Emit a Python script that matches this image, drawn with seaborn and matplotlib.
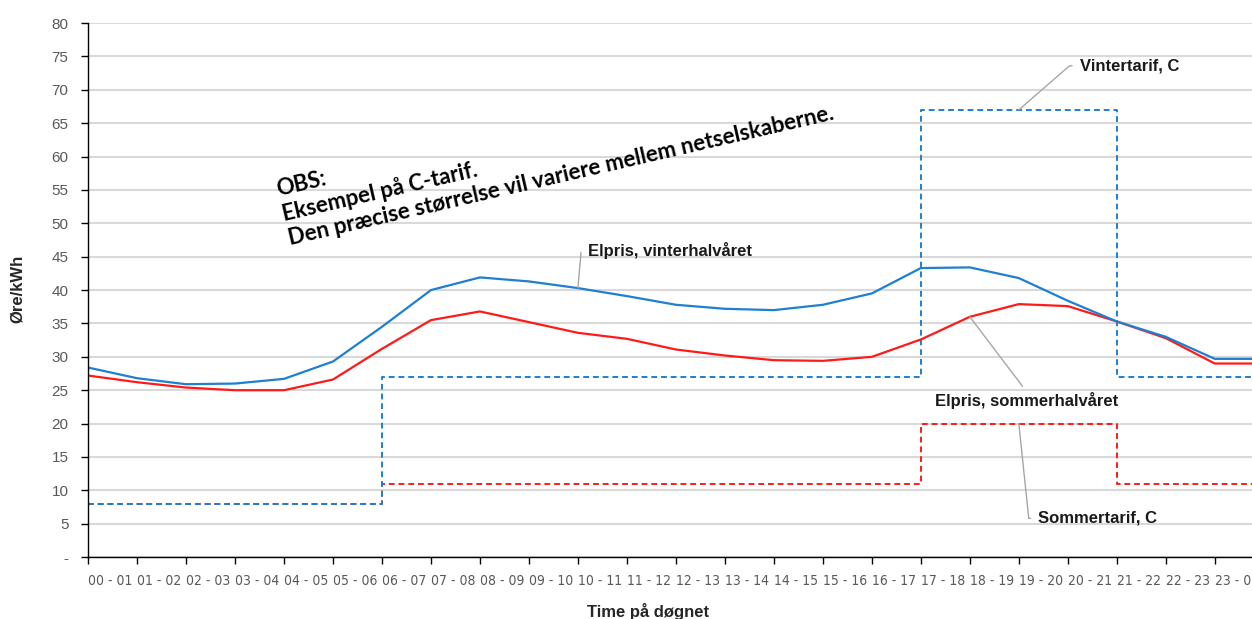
import numpy as np
import matplotlib
matplotlib.use("Agg")
import matplotlib.pyplot as plt
import seaborn as sns

# hours of the day (x categories)
hours = ["00 - 01", "01 - 02", "02 - 03", "03 - 04", "04 - 05", "05 - 06",
         "06 - 07", "07 - 08", "08 - 09", "09 - 10", "10 - 11", "11 - 12",
         "12 - 13", "13 - 14", "14 - 15", "15 - 16", "16 - 17", "17 - 18",
         "18 - 19", "19 - 20", "20 - 21", "21 - 22", "22 - 23", "23 - 00"]

# øre/kWh
elpris_vinter = [28.4, 26.8, 25.9, 26.0, 26.7, 29.3, 34.5, 40.0, 41.9, 41.3, 40.3, 39.1,
                 37.8, 37.2, 37.0, 37.8, 39.5, 43.3, 43.4, 41.8, 38.4, 35.3, 33.0, 29.7]
elpris_sommer = [27.2, 26.2, 25.4, 25.0, 25.0, 26.6, 31.2, 35.5, 36.8, 35.2, 33.6, 32.7,
                 31.1, 30.2, 29.5, 29.4, 30.0, 32.6, 36.0, 37.9, 37.6, 35.3, 32.8, 29.0]
tarif_vinter = [8, 8, 8, 8, 8, 8, 27, 27, 27, 27, 27, 27,
                27, 27, 27, 27, 27, 67, 67, 67, 67, 27, 27, 27]
tarif_sommer = [8, 8, 8, 8, 8, 8, 11, 11, 11, 11, 11, 11,
                11, 11, 11, 11, 11, 20, 20, 20, 20, 11, 11, 11]

yticks = [0, 5, 10, 15, 20, 25, 30, 35, 40, 45, 50, 55, 60, 65, 70, 75, 80]
ytick_labels = ["-"] + [str(v) for v in yticks[1:]]

BLUE = "#1f7fd0"
RED = "#ff1a1a"
GREY = "#595959"
LEAD = "#a6a6a6"

sns.set_style("white")
plt.rcParams["font.family"] = ["Liberation Sans", "DejaVu Sans"]

fig = plt.figure(figsize=(12.52, 6.19), dpi=100)
ax = fig.add_axes([0.0703, 0.1, 0.9297, 0.8627])

# one extra point so the lines run on past the last category (chart is cropped)
pos = np.arange(len(hours) + 1)
ext = lambda v: v + v[-1:]

sns.lineplot(x=pos, y=ext(tarif_sommer), color=RED, lw=1.4, linestyle=(0, (3, 2)),
             drawstyle="steps-post", ax=ax)
sns.lineplot(x=pos, y=ext(tarif_vinter), color=BLUE, lw=1.4, linestyle=(0, (3, 2)),
             drawstyle="steps-post", ax=ax)
sns.lineplot(x=pos, y=ext(elpris_sommer), color=RED, lw=1.6, ax=ax)
sns.lineplot(x=pos, y=ext(elpris_vinter), color=BLUE, lw=1.6, ax=ax)

ax.set_ylim(0, 80)
ax.set_xlim(0, 23.76)
ax.set_yticks(yticks)
ax.set_yticklabels(ytick_labels, fontsize=11, color=GREY)
ax.set_xticks(range(len(hours)))
ax.set_xticklabels(hours, ha="left", fontsize=10, color=GREY,
                   family="DejaVu Sans", fontstretch="condensed")
ax.tick_params(axis="y", direction="out", length=5, width=1, color="black", pad=9, left=True)
ax.tick_params(axis="x", direction="out", length=5, width=1, color="black", pad=7, bottom=True)
ax.yaxis.grid(True, color="#d9d9d9", lw=1.5)
ax.set_axisbelow(True)
for s in ["top", "right"]:
    ax.spines[s].set_visible(False)
for s in ["left", "bottom"]:
    ax.spines[s].set_color("black")
    ax.spines[s].set_linewidth(1)
ax.set_xlabel("")
ax.set_ylabel("")

fig.text(17 / 1252, 1 - 289 / 619, "Øre/kWh", rotation=90, ha="center", va="center",
         fontsize=12, fontweight="bold")
fig.text(0.518, 0.004, "Time på døgnet", ha="center", va="baseline",
         fontsize=12, fontweight="bold")

# leader-line labels
lab = dict(fontsize=12, fontweight="bold", color="#1a1a1a", va="center", ha="left")
ax.annotate("Vintertarif, C", xy=(19, tarif_vinter[19]), xytext=(20.24, 73.6), **lab,
            arrowprops=dict(arrowstyle="-", color=LEAD, lw=1, relpos=(0, 0.5), shrinkA=3, shrinkB=0,
                            connectionstyle="angle,angleA=0,angleB=41,rad=0"))
ax.annotate("Elpris, vinterhalvåret", xy=(10, elpris_vinter[10]), xytext=(10.2, 46.0), **lab,
            arrowprops=dict(arrowstyle="-", color=LEAD, lw=1, relpos=(0, 0.5), shrinkA=3, shrinkB=0,
                            connectionstyle="angle,angleA=0,angleB=85,rad=0"))
ax.annotate("Elpris, sommerhalvåret", xy=(18, elpris_sommer[18]), xytext=(17.29, 23.5), **lab,
            arrowprops=dict(arrowstyle="-", color=LEAD, lw=1, relpos=(0.5, 1), shrinkA=2, shrinkB=0))
ax.annotate("Sommertarif, C", xy=(19, tarif_sommer[19]), xytext=(19.39, 5.8), **lab,
            arrowprops=dict(arrowstyle="-", color=LEAD, lw=1, relpos=(0, 0.5), shrinkA=3, shrinkB=0,
                            connectionstyle="angle,angleA=0,angleB=96,rad=0"))

ax.text(4.1, 47.3, "OBS:\nEksempel på C-tarif.\nDen præcise størrelse vil variere mellem netselskaberne.",
        rotation=13, rotation_mode="anchor", ha="left", va="baseline", fontsize=16,
        fontweight="bold", family=["Lato", "DejaVu Sans"], linespacing=1.2, color="black")

fig.savefig("out.png", dpi=100)
